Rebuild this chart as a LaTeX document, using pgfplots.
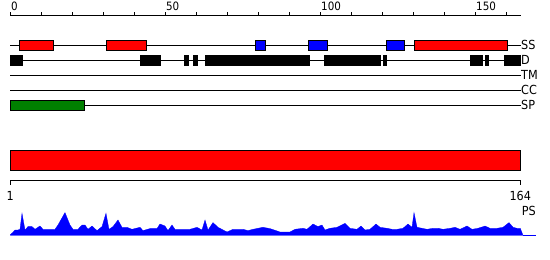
\documentclass[border=0pt]{standalone}
\usepackage{pgfplots}
\pgfplotsset{compat=1.18}
\usepackage{fontspec}
\setmainfont{DejaVu Sans Condensed}
\newcommand\numfont{\fontsize{11.5}{13}\selectfont}
\newcommand\lblfont{\fontsize{12.5}{14}\selectfont}
\newcommand\bx[5]{\addplot[fill=#1,draw=black,line width=0.8pt] coordinates {(#2,#4) (#3,#4) (#3,#5) (#2,#5)} -- cycle;}
\begin{document}
\begin{tikzpicture}
\useasboundingbox (0pt,0pt) rectangle (550pt,-260pt);
% ---------- feature tracks ----------
\begin{axis}[at={(10.3pt,-0.3pt)}, anchor=north west, scale only axis,
  width=510.4pt, height=120pt, xmin=0, xmax=164.6, ymin=-3, ymax=5,
  y dir=reverse, hide axis, clip=false]
% ruler
\addplot[black, line width=1pt] coordinates {(0,-2) (164.6,-2)};
\addplot[black, line width=1pt, quiver={u=0, v=-0.24}] coordinates {
 (0,-2) (10,-2) (20,-2) (30,-2) (40,-2) (50,-2) (60,-2) (70,-2) (80,-2)
 (90,-2) (100,-2) (110,-2) (120,-2) (130,-2) (140,-2) (150,-2) (160,-2)};
\node[anchor=base west, inner sep=0pt, font=\numfont] at (axis cs:0.2,-2.35) {0};
\node[anchor=base west, inner sep=0pt, font=\numfont] at (axis cs:50.2,-2.35) {50};
\node[anchor=base west, inner sep=0pt, font=\numfont] at (axis cs:100.2,-2.35) {100};
\node[anchor=base west, inner sep=0pt, font=\numfont] at (axis cs:150.2,-2.35) {150};
% track lines
\addplot[black, line width=1pt] coordinates {(0,0) (164.6,0)};
\addplot[black, line width=1pt] coordinates {(0,1) (164.6,1)};
\addplot[black, line width=1pt] coordinates {(0,2) (164.6,2)};
\addplot[black, line width=1pt] coordinates {(0,3) (164.6,3)};
\addplot[black, line width=1pt] coordinates {(0,4) (164.6,4)};
% SS
\bx{red}{3.0}{14.0}{-0.333}{0.333}
\bx{red}{30.9}{44.0}{-0.333}{0.333}
\bx{blue}{79.0}{82.4}{-0.333}{0.333}
\bx{blue}{96.1}{102.4}{-0.333}{0.333}
\bx{blue}{121.2}{127.2}{-0.333}{0.333}
\bx{red}{130.2}{160.4}{-0.333}{0.333}
% D
\bx{black}{0}{4.0}{0.667}{1.333}
\bx{black}{41.8}{48.3}{0.667}{1.333}
\bx{black}{56.0}{57.3}{0.667}{1.333}
\bx{black}{59.0}{60.3}{0.667}{1.333}
\bx{black}{62.8}{96.4}{0.667}{1.333}
\bx{black}{101.2}{119.5}{0.667}{1.333}
\bx{black}{120.3}{121.4}{0.667}{1.333}
\bx{black}{148.3}{152.4}{0.667}{1.333}
\bx{black}{153.1}{154.3}{0.667}{1.333}
\bx{black}{159.3}{164.6}{0.667}{1.333}
% SP
\bx{green!50!black}{0}{24.0}{3.667}{4.333}
% labels
\node[anchor=west, inner sep=0pt, font=\lblfont] at (axis cs:164.7,0) {SS};
\node[anchor=west, inner sep=0pt, font=\lblfont] at (axis cs:164.7,1) {D};
\node[anchor=west, inner sep=0pt, font=\lblfont] at (axis cs:164.7,2) {TM};
\node[anchor=west, inner sep=0pt, font=\lblfont] at (axis cs:164.7,3) {CC};
\node[anchor=west, inner sep=0pt, font=\lblfont] at (axis cs:164.7,4) {SP};
\end{axis}
% ---------- domain bar + ruler ----------
\begin{axis}[at={(10.3pt,-145pt)}, anchor=north west, scale only axis,
  width=510pt, height=60pt, xmin=1, xmax=164, ymin=145, ymax=205,
  y dir=reverse, hide axis, clip=false]
\addplot[fill=red, draw=black, line width=1pt] coordinates {(1,150.3) (164,150.3) (164,170.3) (1,170.3)} -- cycle;
\addplot[black, line width=1pt] coordinates {(1,180.3) (164,180.3)};
\addplot[black, line width=1pt, quiver={u=0, v=5}] coordinates {(1,180.3) (164,180.3)};
\node[anchor=base, inner sep=0pt, font=\lblfont] at (axis cs:1,200) {1};
\node[anchor=base, inner sep=0pt, font=\lblfont] at (axis cs:164,200) {164};
\node[anchor=base west, inner sep=0pt, font=\lblfont] at (axis cs:164.4,215.3) {PS};
\end{axis}
% ---------- profile ----------
\begin{axis}[at={(10.3pt,-235.3pt)}, anchor=south west, scale only axis,
  width=510pt, height=25pt, xmin=1, xmax=164, ymin=0, ymax=25,
  hide axis, clip=false]
\addplot[fill=blue, draw=blue, line width=0.3pt] table {
x y
1.00 0.7
1.86 3.0
2.50 5.3
3.46 5.3
4.10 6.0
4.74 22.0
5.70 5.3
6.66 8.7
7.94 8.7
8.89 6.0
10.49 9.3
11.45 6.0
15.29 6.0
16.24 10.3
18.48 22.7
20.08 10.3
21.04 6.0
22.64 6.0
23.91 10.3
24.87 10.3
25.83 6.0
27.11 9.3
28.71 4.7
30.31 8.7
31.58 22.0
32.54 6.0
33.82 8.7
35.42 15.3
36.70 8.0
38.29 8.0
39.89 6.0
42.45 8.0
43.41 4.7
45.65 6.7
47.88 6.7
48.84 11.3
50.44 9.3
51.40 4.7
52.68 10.3
53.64 6.0
55.24 6.0
58.43 6.0
60.67 8.0
62.27 5.3
63.23 15.3
64.19 5.3
65.79 12.7
67.38 8.0
70.26 3.3
72.18 6.0
75.37 6.0
76.97 4.7
78.57 6.0
81.76 8.0
84.00 6.7
87.20 3.3
90.39 3.3
91.99 6.0
94.55 7.0
95.83 6.0
97.74 11.3
99.34 8.7
100.62 10.3
101.58 5.3
103.18 7.0
105.41 8.0
107.97 12.0
109.57 7.0
111.81 6.0
113.09 9.3
114.37 5.3
115.96 6.0
117.88 11.3
119.16 8.0
121.40 7.0
123.00 6.0
124.59 6.0
126.51 7.0
128.11 11.3
129.39 8.0
130.03 22.7
130.99 8.0
132.59 7.0
134.19 6.0
136.10 7.0
137.70 7.0
139.30 6.0
141.54 7.0
143.14 8.0
144.74 6.0
146.97 9.3
148.57 6.0
150.49 7.0
152.73 9.3
154.33 7.0
156.56 7.0
158.48 8.0
160.40 12.7
161.68 8.0
162.96 7.0
164.00 7.0
164.86 0.0
} \closedcycle;
\addplot[blue, line width=1pt] coordinates {(164.86,0) (168.9,0)};
\end{axis}
\end{tikzpicture}
\end{document}
